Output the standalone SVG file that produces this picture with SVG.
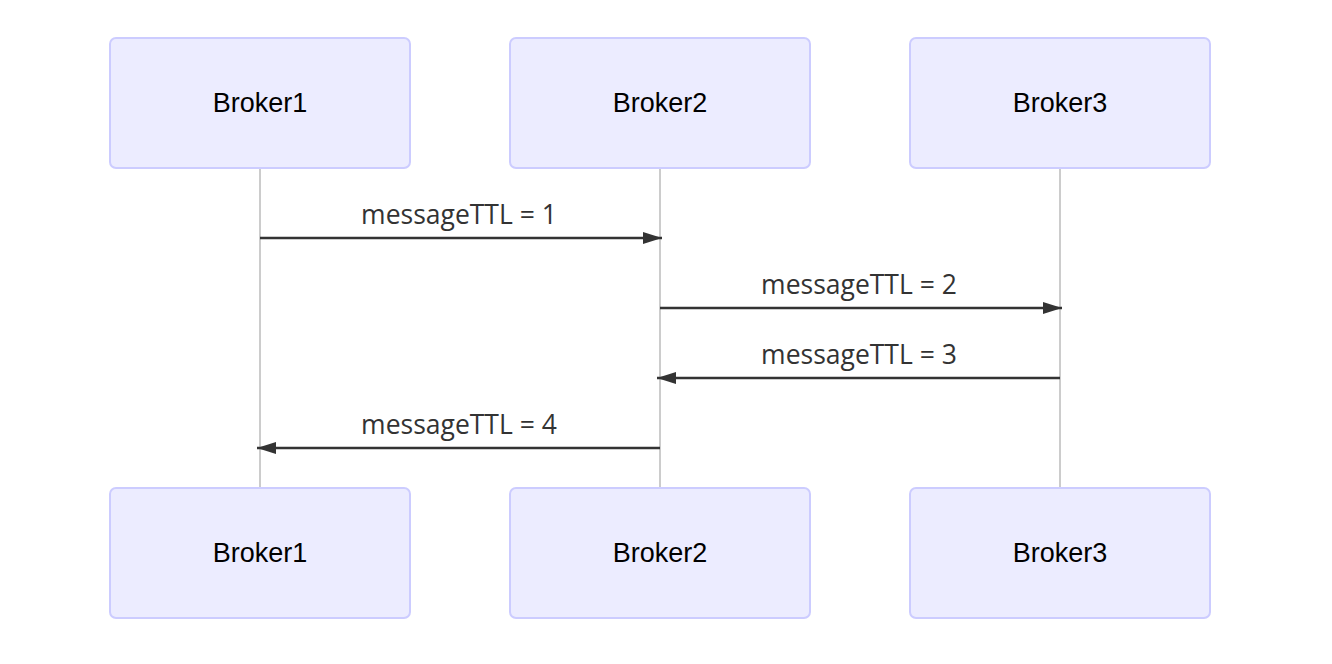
<svg xmlns="http://www.w3.org/2000/svg" width="1332" height="664" viewBox="0 0 1332 664">
<style>
.actor{fill:#ECECFF;stroke:#CCCCFF;stroke-width:2}
.atext{font-family:"Liberation Sans",Arial,sans-serif;font-size:27px;fill:#000;text-anchor:middle}
.life{stroke:#999;stroke-width:1}
.msg{stroke:#333;stroke-width:2.5;fill:none}
.mtext{font-family:"Open Sans",sans-serif;font-size:26.5px;fill:#333;text-anchor:middle}
</style>
<defs>
<marker id="arrow" viewBox="0 0 19 12" refX="19" refY="6" markerWidth="19" markerHeight="12" markerUnits="userSpaceOnUse" orient="auto">
<path d="M0,0 L19,6 L0,12 z" fill="#333"/>
</marker>
</defs>
<rect width="1332" height="664" fill="#fff"/>
<g id="lifelines">
<line class="life" x1="260" y1="168" x2="260" y2="488"/>
<line class="life" x1="660" y1="168" x2="660" y2="488"/>
<line class="life" x1="1060" y1="168" x2="1060" y2="488"/>
</g>
<g id="broker1-top"><rect class="actor" x="110" y="38" width="300" height="130" rx="6"/><text class="atext" x="260" y="112">Broker1</text></g>
<g id="broker2-top"><rect class="actor" x="510" y="38" width="300" height="130" rx="6"/><text class="atext" x="660" y="112">Broker2</text></g>
<g id="broker3-top"><rect class="actor" x="910" y="38" width="300" height="130" rx="6"/><text class="atext" x="1060" y="112">Broker3</text></g>
<g id="broker1-bottom"><rect class="actor" x="110" y="488" width="300" height="130" rx="6"/><text class="atext" x="260" y="562">Broker1</text></g>
<g id="broker2-bottom"><rect class="actor" x="510" y="488" width="300" height="130" rx="6"/><text class="atext" x="660" y="562">Broker2</text></g>
<g id="broker3-bottom"><rect class="actor" x="910" y="488" width="300" height="130" rx="6"/><text class="atext" x="1060" y="562">Broker3</text></g>
<g id="connectors">
<line class="msg" x1="260" y1="238" x2="662" y2="238" marker-end="url(#arrow)"/>
<text class="mtext" x="459" y="224">messageTTL = 1</text>
<line class="msg" x1="660" y1="308" x2="1062" y2="308" marker-end="url(#arrow)"/>
<text class="mtext" x="859" y="294">messageTTL = 2</text>
<line class="msg" x1="1060" y1="378" x2="657" y2="378" marker-end="url(#arrow)"/>
<text class="mtext" x="859" y="364">messageTTL = 3</text>
<line class="msg" x1="660" y1="448" x2="257" y2="448" marker-end="url(#arrow)"/>
<text class="mtext" x="459" y="434">messageTTL = 4</text>
</g>
</svg>
